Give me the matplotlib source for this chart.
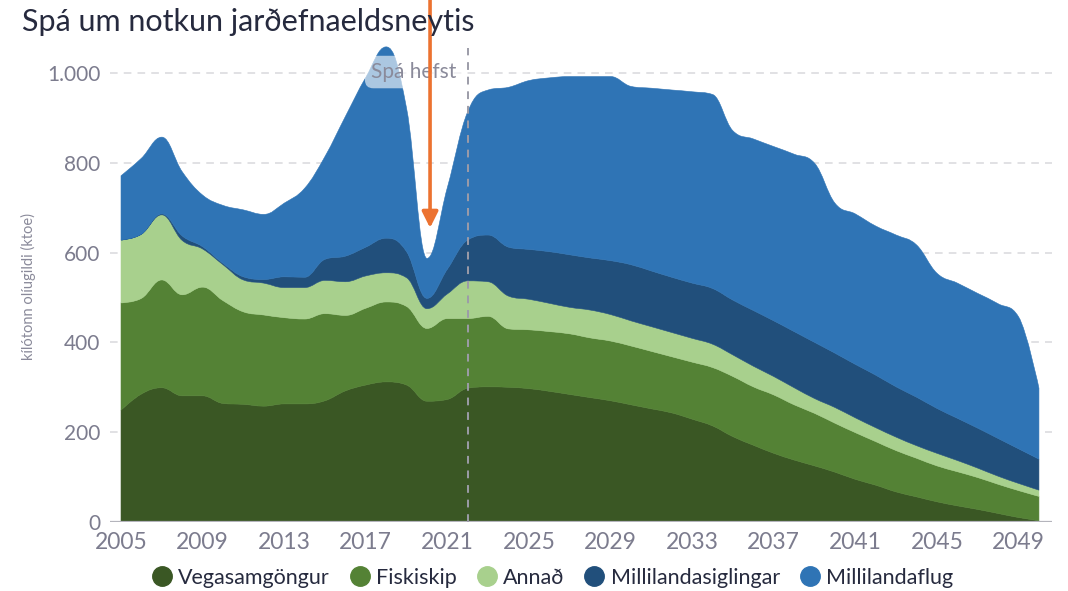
import numpy as np
import matplotlib
matplotlib.use("Agg")
import matplotlib.pyplot as plt
from matplotlib.lines import Line2D
from matplotlib.path import Path
from matplotlib.patches import PathPatch

plt.rcParams['font.family'] = ['Lato', 'DejaVu Sans']

# ktoe per year
years = np.arange(2005, 2051)

vegasamgongur = [249, 285, 299, 281, 281, 264, 262, 258, 263, 263,
                 270, 292, 305, 312, 305, 269, 273, 298, 301, 300,
                 297, 291, 284, 277, 270, 261, 252, 243, 229, 214,
                 190, 171, 153, 138, 125, 111, 95, 82, 67, 56,
                 45, 36, 28, 19, 10, 3]
fiskiskip = [239, 213, 240, 225, 242, 229, 206, 203, 192, 189,
             194, 168, 171, 178, 175, 162, 180, 155, 157, 130,
             131, 133, 135, 133, 133, 131, 128, 125, 127, 130,
             134, 130, 130, 123, 117, 109, 104, 97, 92, 86,
             80, 76, 71, 65, 60, 54]
annad = [140, 143, 145, 121, 85, 80, 71, 71, 67, 70,
         74, 75, 72, 65, 64, 44, 55, 84, 77, 73,
         68, 63, 59, 62, 59, 56, 55, 54, 53, 52,
         48, 46, 41, 38, 33, 35, 33, 31, 30, 28,
         28, 25, 21, 18, 16, 14]
millilandasiglingar = [0, 0, 2, 10, 5, 3, 7, 8, 24, 23,
                       47, 57, 64, 77, 58, 23, 55, 91, 104, 109,
                       111, 115, 117, 116, 120, 125, 124, 123, 123, 124,
                       122, 124, 124, 125, 125, 121, 119, 117, 112, 108,
                       100, 94, 89, 84, 77, 69]
millilandaflug = [143, 169, 171, 143, 115, 129, 149, 145, 164, 198,
                  229, 311, 378, 426, 319, 89, 182, 286, 323, 356,
                  376, 387, 397, 404, 410, 397, 407, 417, 426, 432,
                  377, 382, 388, 395, 399, 334, 335, 332, 338, 339,
                  301, 301, 300, 300, 294, 158]

labels = ['Vegasamgöngur', 'Fiskiskip', 'Annað', 'Millilandasiglingar', 'Millilandaflug']
colors = ['#3a5724', '#548235', '#a8d08d', '#214f7b', '#2f74b5']

yticks = [0, 200, 400, 600, 800, 1000]
ytick_labels = ['0', '200', '400', '600', '800', '1.000']
xticks = list(range(2005, 2050, 4))

forecast_year = 2022
arrow_year = 2020.15

text_grey = '#7c7c8e'


def spline_controls(x, y, smooth=1.5):
    # left/right bezier handles for each point (areaspline style, no overshoot)
    n = len(x)
    lc = [(x[i], y[i]) for i in range(n)]
    rc = [(x[i], y[i]) for i in range(n)]
    d = smooth + 1
    for i in range(1, n - 1):
        lcx = (smooth * x[i] + x[i - 1]) / d
        lcy = (smooth * y[i] + y[i - 1]) / d
        rcx = (smooth * x[i] + x[i + 1]) / d
        rcy = (smooth * y[i] + y[i + 1]) / d
        corr = (rcy - lcy) * (rcx - x[i]) / (rcx - lcx) + y[i] - rcy
        lcy += corr
        rcy += corr
        lo, hi = min(y[i - 1], y[i]), max(y[i - 1], y[i])
        if lcy > hi:
            lcy = hi
            rcy = 2 * y[i] - lcy
        elif lcy < lo:
            lcy = lo
            rcy = 2 * y[i] - lcy
        lo, hi = min(y[i], y[i + 1]), max(y[i], y[i + 1])
        if rcy > hi:
            rcy = hi
            lcy = 2 * y[i] - rcy
        elif rcy < lo:
            rcy = lo
            lcy = 2 * y[i] - rcy
        lc[i] = (lcx, lcy)
        rc[i] = (rcx, rcy)
    return lc, rc


def band_path(x, top, bottom):
    ltop, rtop = spline_controls(x, top)
    lbot, rbot = spline_controls(x, bottom)
    n = len(x)
    verts = [(x[0], top[0])]
    codes = [Path.MOVETO]
    for i in range(n - 1):
        verts += [rtop[i], ltop[i + 1], (x[i + 1], top[i + 1])]
        codes += [Path.CURVE4] * 3
    verts.append((x[-1], bottom[-1]))
    codes.append(Path.LINETO)
    for i in range(n - 1, 0, -1):
        verts += [lbot[i], rbot[i - 1], (x[i - 1], bottom[i - 1])]
        codes += [Path.CURVE4] * 3
    verts.append((x[0], top[0]))
    codes.append(Path.CLOSEPOLY)
    return Path(verts, codes)


fig = plt.figure(figsize=(10.68, 5.91), dpi=100)
ax = fig.add_axes([110 / 1068, 1 - 522 / 591, 942 / 1068, 485 / 591])

series = [vegasamgongur, fiskiskip, annad, millilandasiglingar, millilandaflug]
xs = [float(v) for v in years]
lower = [0.0] * len(xs)
for vals, c in zip(series, colors):
    upper = [a + b for a, b in zip(lower, vals)]
    ax.add_patch(PathPatch(band_path(xs, upper, lower), facecolor=c,
                           edgecolor=c, lw=0.4, zorder=2))
    lower = upper

ax.set_xlim(2004.46, 2050.64)
ax.set_ylim(0, 1080)

# grid
for v in yticks[1:]:
    ax.axhline(v, color='#d9d9dc', lw=1.1, ls=(0, (5, 4)), zorder=1)
ax.axhline(0, color='#b4b4bc', lw=1.6, zorder=4)

for s in ax.spines.values():
    s.set_visible(False)

ax.set_yticks(yticks)
ax.set_yticklabels(ytick_labels)
ax.set_xticks(xticks)
ax.tick_params(length=0, labelsize=15, colors=text_grey)
ax.tick_params(axis='x', labelsize=16.5, pad=7)
ax.tick_params(axis='y', pad=7)

# forecast start
ax.plot([forecast_year, forecast_year], [0, 1056], color='#9c9ca8', lw=1.4,
        ls=(0, (4, 3.5)), zorder=5)
ax.text(2021.45, 1002, 'Spá hefst', ha='right', va='center', fontsize=15,
        color='#8a8a9a', zorder=6,
        bbox=dict(boxstyle='round,pad=0.3,rounding_size=0.4', fc='white',
                  ec='none', alpha=0.6))

# arrow pointing at 2020 dip
ax.annotate('', xy=(arrow_year, 655), xytext=(arrow_year, 1.0),
            textcoords=('data', 'figure fraction'),
            arrowprops=dict(arrowstyle='-|>', color='#ec7230', lw=2.6,
                            mutation_scale=24, shrinkA=0, shrinkB=0),
            zorder=7, annotation_clip=False)

fig.text(22 / 1068, 1 - 22 / 591, 'Spá um notkun jarðefnaeldsneytis',
         fontsize=22, color='#262a3e', ha='left', va='center')
fig.text(28 / 1068, 1 - 287 / 591, 'kílótonn olíugildi (ktoe)', rotation=90,
         fontsize=10.5, color='#8a8a9a', ha='center', va='center')

handles = [Line2D([], [], ls='none', marker='o', markersize=14,
                  markerfacecolor=c, markeredgecolor=c) for c in colors]
fig.legend(handles, labels, loc='center', bbox_to_anchor=(0.517, 0.022),
           ncol=5, frameon=False, fontsize=15.5, handletextpad=0.25,
           columnspacing=0.9, handlelength=1.0, labelcolor='#262a3e')

fig.savefig('out.png', dpi=100)
